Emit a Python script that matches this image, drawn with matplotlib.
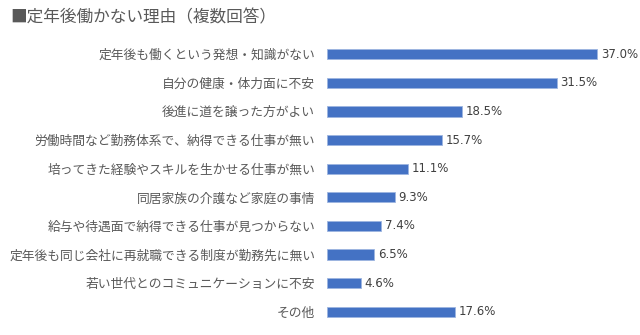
import matplotlib.pyplot as plt

plt.rcParams['font.family'] = ['Noto Sans CJK JP', 'DejaVu Sans']

reasons = ['定年後も働くという発想・知識がない',
           '自分の健康・体力面に不安',
           '後進に道を譲った方がよい',
           '労働時間など勤務体系で、納得できる仕事が無い',
           '培ってきた経験やスキルを生かせる仕事が無い',
           '同居家族の介護など家庭の事情',
           '給与や待遇面で納得できる仕事が見つからない',
           '定年後も同じ会社に再就職できる制度が勤務先に無い',
           '若い世代とのコミュニケーションに不安',
           'その他']
values = [37.0, 31.5, 18.5, 15.7, 11.1, 9.3, 7.4, 6.5, 4.6, 17.6]
value_labels = ['37.0%', '31.5%', '18.5%', '15.7%', '11.1%',
                '9.3%', '7.4%', '6.5%', '4.6%', '17.6%']

fig = plt.figure(figsize=(6.4, 3.35), dpi=100)
ax = fig.add_axes([327 / 640, 1 - 326.3 / 335, 292 / 640, 286.6 / 335])

ypos = list(range(len(reasons)))
ax.barh(ypos, values, height=0.36, color='#4472C4', edgecolor='#9DB5E0', linewidth=0.6)
ax.set_xlim(0, 40)
ax.set_ylim(len(reasons) - 0.5, -0.5)

for y, v, lab in zip(ypos, values, value_labels):
    ax.text(v + 0.5, y, lab, va='center', ha='left', fontsize=8.5, color='#404040',
            family=['DejaVu Sans'])

ax.set_yticks(ypos)
ax.set_yticklabels(reasons, fontsize=9.2, color='#595959')
ax.tick_params(axis='y', length=0, pad=8.5)
ax.set_xticks([])
for s in ax.spines.values():
    s.set_visible(False)

fig.text(10 / 640, 1 - 18 / 335, '■定年後働かない理由（複数回答）', fontsize=12,
         color='#595959', va='center', ha='left')

fig.savefig('out.png', dpi=100)
